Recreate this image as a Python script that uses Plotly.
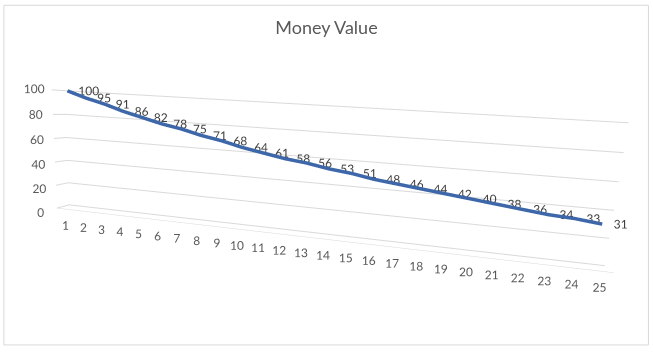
import plotly.graph_objects as go

categories = list(range(1, 26))
values = [100, 95, 91, 86, 82, 78, 75, 71, 68, 64, 61, 58, 56, 53, 51,
          48, 46, 44, 42, 40, 38, 36, 34, 33, 31]
z_ticks = [0, 20, 40, 60, 80, 100]
series_depth = [1] * len(categories)
floor_front = [0] * len(categories)
floor_level = [0] * len(categories)

font_family = "Lato, Open Sans, sans-serif"

fig = go.Figure()
fig.add_trace(go.Scatter3d(
    x=categories, y=series_depth, z=values,
    mode="lines+text",
    line=dict(color="#3D67A9", width=7),
    text=[str(v) for v in values],
    textposition="middle right",
    textfont=dict(family=font_family, size=12, color="#404040"),
    hoverinfo="skip",
))
# category labels along the front edge of the floor
fig.add_trace(go.Scatter3d(
    x=categories, y=floor_front, z=floor_level,
    mode="text",
    text=[str(c) for c in categories],
    textposition="bottom center",
    textfont=dict(family=font_family, size=12, color="#595959"),
    hoverinfo="skip",
))

axis_font = dict(family=font_family, size=12, color="#595959")
fig.update_layout(
    width=653, height=352,
    margin=dict(l=0, r=0, t=0, b=0),
    paper_bgcolor="white",
    showlegend=False,
    title=dict(text="Money Value", x=0.5, xanchor="center", y=0.92, yanchor="middle",
               font=dict(family=font_family, size=18, color="#595959")),
    scene=dict(
        domain=dict(x=[0, 1], y=[0, 1]),
        aspectmode="manual",
        aspectratio=dict(x=3.0, y=0.0935, z=0.6909),
        camera=dict(eye=dict(x=0.5174, y=-2.1595, z=0.3306),
                    center=dict(x=0.0572, y=0.2726, z=-0.0620),
                    up=dict(x=-0.1201, y=0.3096, z=1),
                    projection=dict(type="perspective")),
        xaxis=dict(range=[0.5, 25.5], showgrid=False, showbackground=False, showline=True,
                   linecolor="#d9d9d9", zeroline=False, ticks="", showticklabels=False,
                   title=dict(text=""), showspikes=False),
        yaxis=dict(range=[0, 2], showgrid=False, showbackground=False, showline=False,
                   zeroline=False, showticklabels=False, ticks="", title=dict(text=""),
                   showspikes=False),
        zaxis=dict(range=[0, 100], tickvals=z_ticks, showgrid=True, gridcolor="#d9d9d9",
                   showbackground=False, showline=False, zeroline=False, ticks="", tickangle=0,
                   title=dict(text=""), tickfont=axis_font, showspikes=False),
    ),
    shapes=[dict(type="rect", xref="paper", yref="paper", x0=0.006, x1=0.993, y0=0.02, y1=0.985,
                 line=dict(color="#d9d9d9", width=1))],
)

fig.write_html("out.html")
